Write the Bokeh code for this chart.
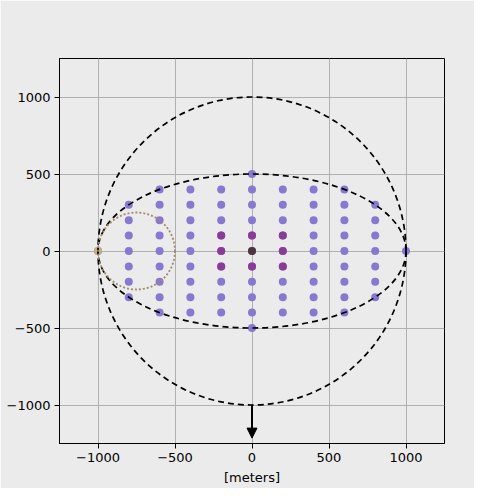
from bokeh.plotting import figure
from bokeh.models import Range1d, FixedTicker, Arrow, NormalHead
from bokeh.embed import file_html
from bokeh.resources import INLINE

# Grid of sample points: column x positions and half-extent in y of each column
col_x = [-1000, -800, -600, -400, -200, 0, 200, 400, 600, 800, 1000]
col_ymax = [0, 300, 400, 400, 400, 500, 400, 400, 400, 300, 0]
row_step = 100

# Highlighted points
mag_x = [-200, -200, -200, 0, 0, 200, 200, 200]
mag_y = [100, 0, -100, 100, -100, 100, 0, -100]
center_x = [0]
center_y = [0]
source_x = [-1000]
source_y = [0]

# Outline shapes: (x, y, width, height)
big_circle = (0, 0, 2000, 2000)
ellipse = (0, 0, 2000, 1000)
small_circle = (-750, 0, 500, 500)

arrow_start = (0, -1000)
arrow_end = (0, -1215)

ticks = [-1000, -500, 0, 500, 1000]

pts_x, pts_y = [], []
for cx, ym in zip(col_x, col_ymax):
    yv = ym
    while yv >= -ym:
        pts_x.append(cx)
        pts_y.append(yv)
        yv -= row_step

BG = "#ebebeb"
p = figure(output_backend="svg", toolbar_location=None,
           frame_width=385, frame_height=385,
           x_range=Range1d(-1250, 1250), y_range=Range1d(-1250, 1250),
           min_border_left=59, min_border_top=58, min_border_right=30, min_border_bottom=45,
           background_fill_color=BG, border_fill_color=BG)

p.outline_line_color = "black"
p.outline_line_width = 1
for ax in (p.xaxis[0], p.yaxis[0]):
    ax.ticker = FixedTicker(ticks=ticks)
    ax.minor_tick_line_color = None
    ax.major_tick_out = 5
    ax.major_tick_in = 0
    ax.major_label_text_font = "DejaVu Sans"
    ax.major_label_text_font_size = "13px"
    ax.major_label_text_color = "black"
    ax.axis_line_color = "black"
    ax.major_label_standoff = 4
p.xaxis.axis_label = "[meters]"
p.xaxis.axis_label_text_font = "DejaVu Sans"
p.xaxis.axis_label_text_font_style = "normal"
p.xaxis.axis_label_text_font_size = "13px"
p.xaxis.axis_label_text_color = "black"
p.xaxis.axis_label_standoff = 5
p.xgrid.ticker = FixedTicker(ticks=ticks)
p.ygrid.ticker = FixedTicker(ticks=ticks)
p.grid.grid_line_color = "#b0b0b0"
p.grid.grid_line_width = 1

p.scatter(pts_x, pts_y, size=8, fill_color="#8878d0", line_color=None)
p.scatter(mag_x, mag_y, size=8, fill_color="#8b3a99", line_color=None)
p.scatter(center_x, center_y, size=8, fill_color="#4d3540", line_color=None)
p.scatter(source_x, source_y, size=8, fill_color="#bfae84", line_color=None)

p.ellipse(x=[big_circle[0]], y=[big_circle[1]], width=[big_circle[2]], height=[big_circle[3]],
          fill_color=None, line_color="black", line_dash="6 4", line_width=1.7)
p.ellipse(x=[ellipse[0]], y=[ellipse[1]], width=[ellipse[2]], height=[ellipse[3]],
          fill_color=None, line_color="black", line_dash="6 4", line_width=1.7)
p.ellipse(x=[small_circle[0]], y=[small_circle[1]], width=[small_circle[2]], height=[small_circle[3]],
          fill_color=None, line_color="#a08a6a", line_dash="2 2", line_width=1.8)

p.add_layout(Arrow(x_start=arrow_start[0], y_start=arrow_start[1],
                   x_end=arrow_end[0], y_end=arrow_end[1],
                   line_color="black", line_width=2,
                   end=NormalHead(size=10, fill_color="black", line_color="black")))

open("out.html", "w").write(file_html(p, INLINE))
